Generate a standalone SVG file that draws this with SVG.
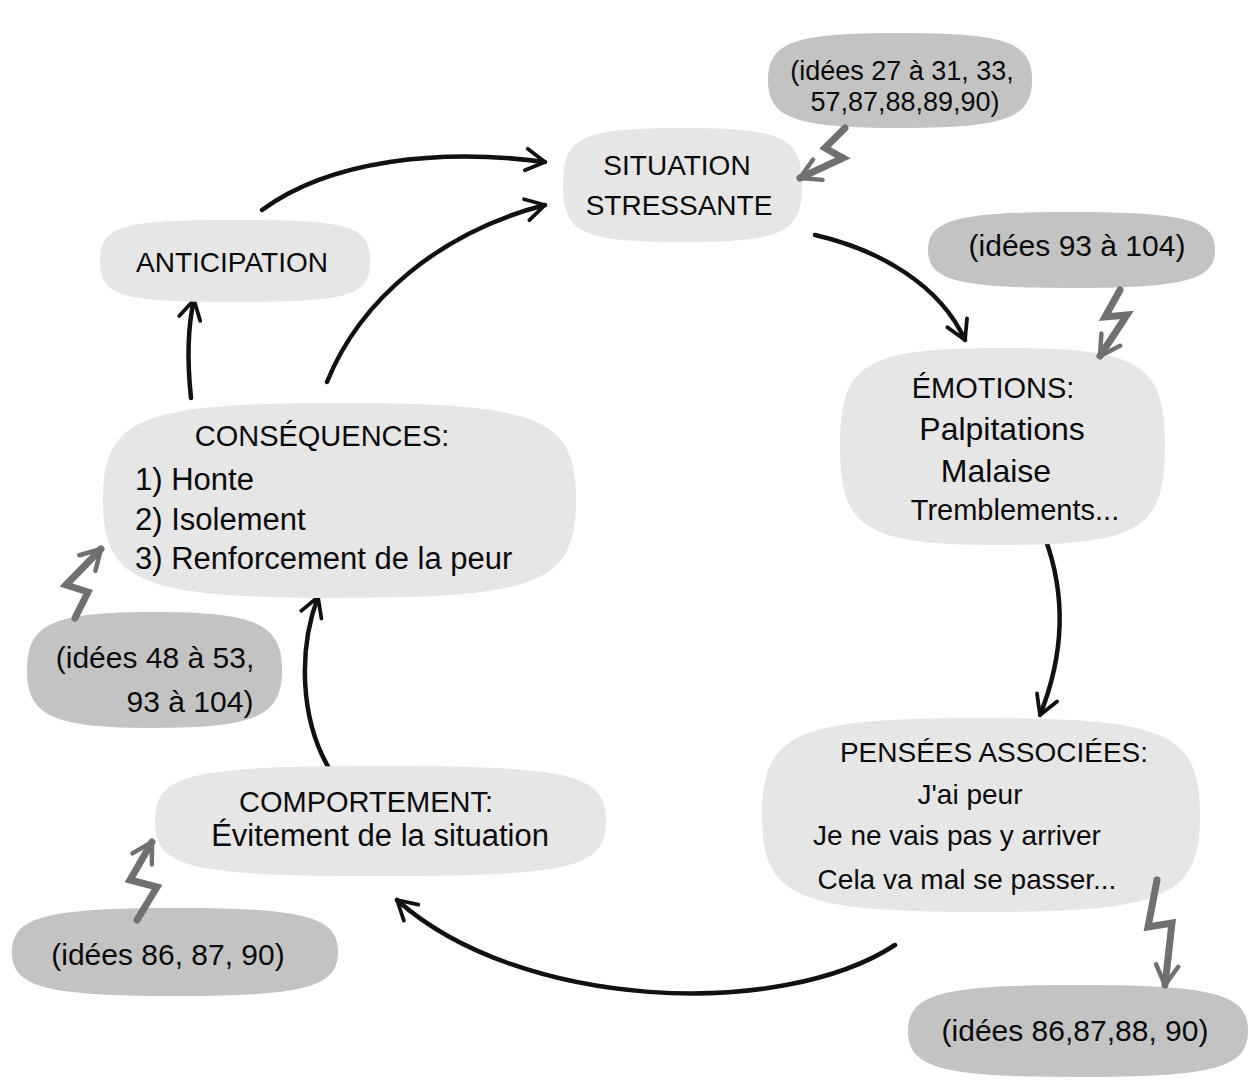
<svg xmlns="http://www.w3.org/2000/svg" width="1256" height="1092" viewBox="0 0 1256 1092">
<defs>
<style>
.node{fill:#e6e6e6;}
.ref{fill:#c3c3c3;}
text{font-family:"Liberation Sans","DejaVu Sans",sans-serif;fill:#0a0a0a;}
.t{text-anchor:middle;}
.conn{fill:none;stroke:#111;stroke-width:4.5;stroke-linecap:round;marker-end:url(#ah);}
.bolt{fill:none;stroke:#707070;stroke-width:7;stroke-linejoin:miter;stroke-linecap:round;marker-end:url(#gh);}
</style>
<marker id="ah" viewBox="0 0 10 10" refX="8.5" refY="5" markerWidth="6" markerHeight="6" orient="auto" markerUnits="strokeWidth">
<path d="M1.5,1 L8.5,5 L1.5,9" fill="none" stroke="#111" stroke-width="1.4" stroke-linecap="round" stroke-linejoin="round"/>
</marker>
<marker id="gh" viewBox="0 0 10 10" refX="8.5" refY="5" markerWidth="4" markerHeight="4" orient="auto" markerUnits="strokeWidth">
<path d="M1.5,1 L8.5,5 L1.5,9" fill="none" stroke="#707070" stroke-width="1.6" stroke-linecap="round" stroke-linejoin="round"/>
</marker>
</defs>
<rect width="1256" height="1092" fill="#ffffff"/>

<g id="connectors">
<path class="conn" d="M262,210 C330,160 440,148 545,162"/>
<path class="conn" d="M327,382 C360,300 440,232 545,205"/>
<path class="conn" d="M191,398 C187,360 187,330 194,300"/>
<path class="conn" d="M815,235 C880,250 940,285 965,340"/>
<path class="conn" d="M1045,538 C1068,600 1062,660 1040,715"/>
<path class="conn" d="M895,945 C780,1020 520,1010 397,900"/>
<path class="conn" d="M330,770 C300,720 298,650 318,597"/>
</g>

<g id="node-situation">
<path class="node" d="M682,128 C783,128 802,137 802,185 C802,233 783,242 682,242 C581,242 563,233 563,185 C563,137 581,128 682,128 Z"/>
<text class="t" x="677" y="175" font-size="28">SITUATION</text>
<text class="t" x="679" y="215" font-size="28">STRESSANTE</text>
</g>

<g id="node-anticipation">
<path class="node" d="M235,220 C350,220 370,226 370,261 C370,296 350,302 235,302 C120,302 100,296 100,261 C100,226 120,220 235,220 Z"/>
<text class="t" x="232" y="272" font-size="28">ANTICIPATION</text>
</g>

<g id="node-emotions">
<path class="node" d="M1002,348 C1140,348 1165,363 1165,446 C1165,529 1140,545 1002,545 C864,545 840,529 840,446 C840,363 864,348 1002,348 Z"/>
<text class="t" x="993" y="398" font-size="29">ÉMOTIONS:</text>
<text class="t" x="1002" y="440" font-size="32">Palpitations</text>
<text class="t" x="996" y="482" font-size="32">Malaise</text>
<text class="t" x="1015" y="520" font-size="29">Tremblements...</text>
</g>

<g id="node-pensees">
<path class="node" d="M981,718 C1167,718 1200,733 1200,815 C1200,897 1167,912 981,912 C795,912 762,897 762,815 C762,733 795,718 981,718 Z"/>
<text class="t" x="994" y="762" font-size="28">PENSÉES ASSOCIÉES:</text>
<text class="t" x="970" y="804" font-size="28">J'ai peur</text>
<text class="t" x="957" y="845" font-size="28">Je ne vais pas y arriver</text>
<text class="t" x="967" y="889" font-size="28">Cela va mal se passer...</text>
</g>

<g id="node-comportement">
<path class="node" d="M380,766 C571,766 606,774 606,821 C606,868 571,876 380,876 C189,876 155,868 155,821 C155,774 189,766 380,766 Z"/>
<text class="t" x="366" y="812" font-size="29">COMPORTEMENT:</text>
<text class="t" x="380" y="846" font-size="31">Évitement de la situation</text>
</g>

<g id="node-consequences">
<path class="node" d="M340,403 C541,403 576,418 576,500 C576,582 541,598 340,598 C139,598 103,582 103,500 C103,418 139,403 340,403 Z"/>
<text class="t" x="322" y="446" font-size="29">CONSÉQUENCES:</text>
<text x="135" y="490" font-size="31">1) Honte</text>
<text x="135" y="530" font-size="31">2) Isolement</text>
<text x="135" y="569" font-size="31">3) Renforcement de la peur</text>
</g>

<g id="ref-situation">
<path class="ref" d="M900,33 C1006,33 1032,42 1032,80 C1032,118 1006,128 900,128 C794,128 768,118 768,80 C768,42 794,33 900,33 Z"/>
<text class="t" x="902" y="80" font-size="27">(idées 27 à 31, 33,</text>
<text class="t" x="905" y="111" font-size="27">57,87,88,89,90)</text>
</g>

<g id="ref-emotions">
<path class="ref" d="M1071,212 C1185,212 1215,220 1215,250 C1215,280 1185,288 1071,288 C957,288 928,280 928,250 C928,220 957,212 1071,212 Z"/>
<text class="t" x="1077" y="256" font-size="30">(idées 93 à 104)</text>
</g>

<g id="ref-consequences">
<path class="ref" d="M154,612 C256,612 282,624 282,670 C282,716 256,728 154,728 C52,728 27,716 27,670 C27,624 52,612 154,612 Z"/>
<text class="t" x="155" y="668" font-size="30">(idées 48 à 53,</text>
<text class="t" x="190" y="712" font-size="30">93 à 104)</text>
</g>

<g id="ref-comportement">
<path class="ref" d="M175,908 C305,908 338,917 338,952 C338,987 305,996 175,996 C45,996 12,987 12,952 C12,917 45,908 175,908 Z"/>
<text class="t" x="168" y="965" font-size="30">(idées 86, 87, 90)</text>
</g>

<g id="ref-pensees">
<path class="ref" d="M1078,985 C1214,985 1248,994 1248,1031 C1248,1068 1214,1077 1078,1077 C942,1077 908,1068 908,1031 C908,994 942,985 1078,985 Z"/>
<text class="t" x="1075" y="1041" font-size="30">(idées 86,87,88, 90)</text>
</g>

<g id="bolts">
<path class="bolt" d="M845,128 L825,148 L843,158 L800,178"/>
<path class="bolt" d="M1120,290 L1105,317 L1127,315 L1100,356"/>
<path class="bolt" d="M1157,880 L1148,927 L1172,923 L1165,985"/>
<path class="bolt" d="M75,618 L88,592 L66,585 L101,549"/>
<path class="bolt" d="M137,920 L157,887 L130,880 L152,842"/>
</g>
</svg>
